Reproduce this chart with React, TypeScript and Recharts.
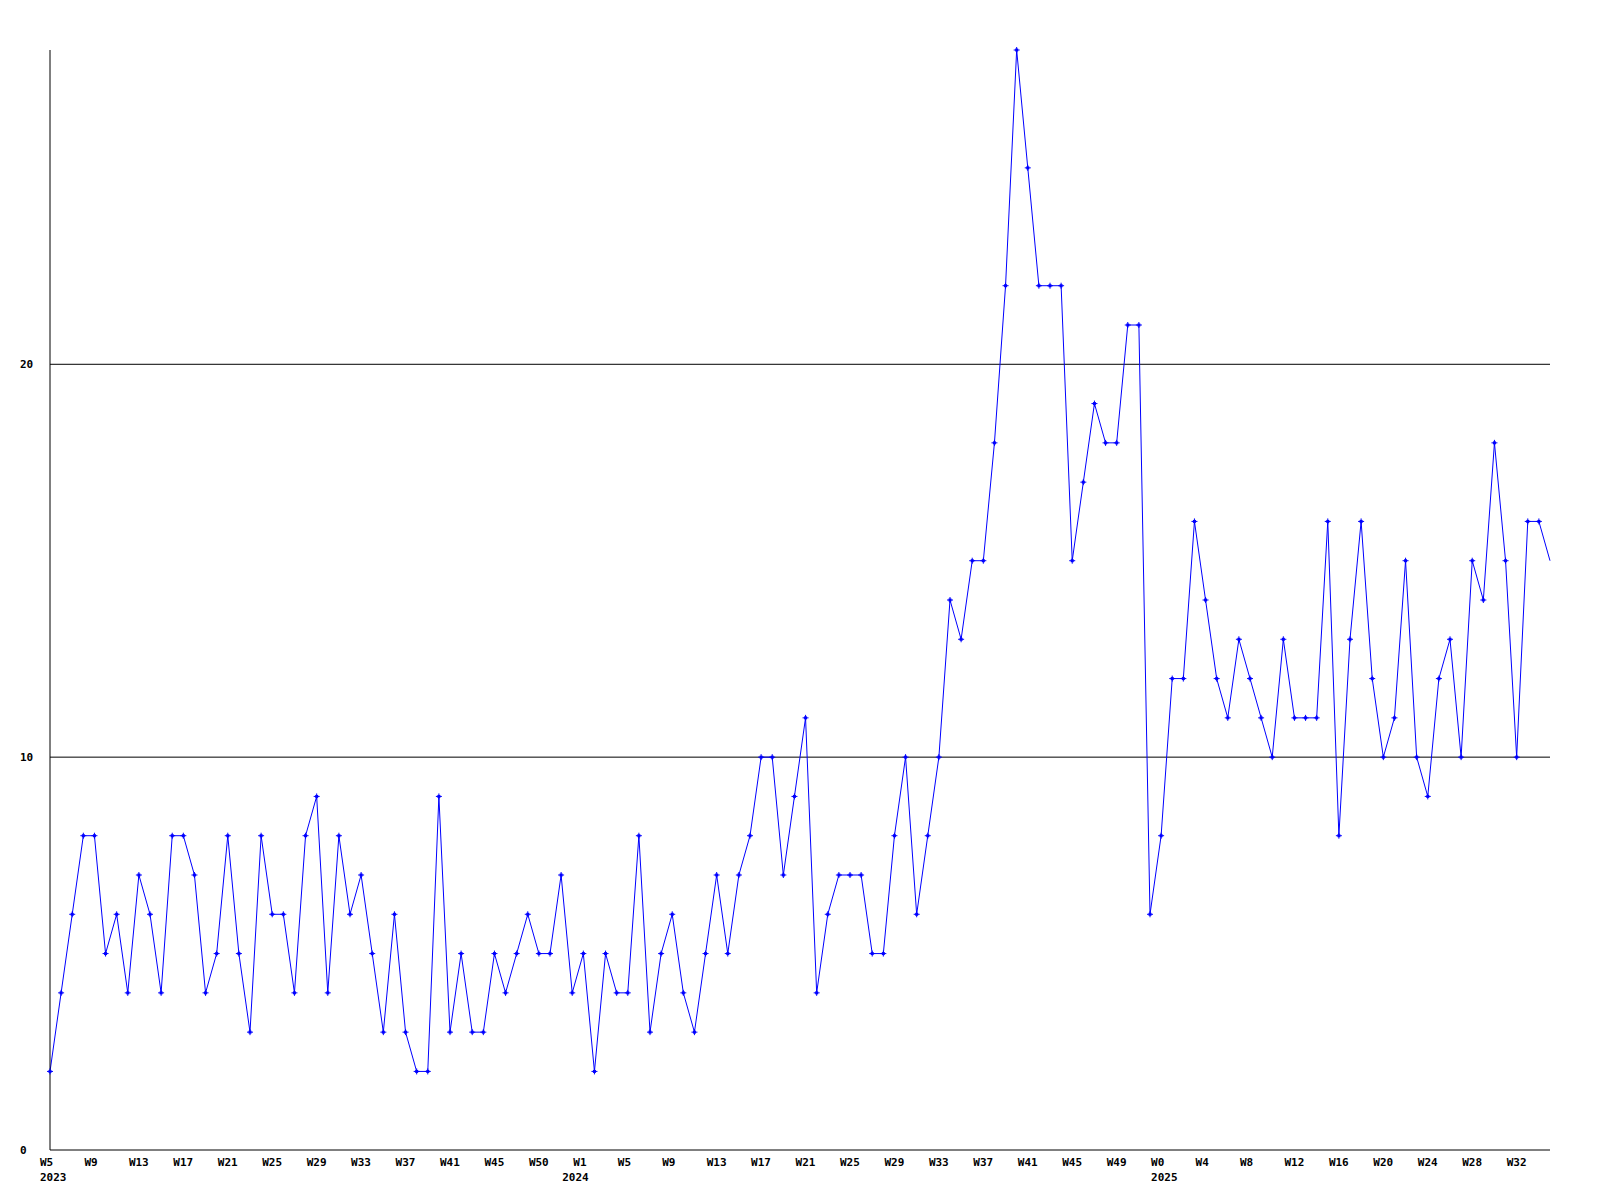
import React from 'react';
import { LineChart, Line, XAxis, YAxis, ReferenceLine, ReferenceDot } from 'recharts';

// weekly counts, one point per week, 2023 W5 onwards
const weeklyCounts = [
  2, 4, 6, 8, 8, 5, 6, 4, 7, 6,
  4, 8, 8, 7, 4, 5, 8, 5, 3, 8,
  6, 6, 4, 8, 9, 4, 8, 6, 7, 5,
  3, 6, 3, 2, 2, 9, 3, 5, 3, 3,
  5, 4, 5, 6, 5, 5, 7, 4, 5, 2,
  5, 4, 4, 8, 3, 5, 6, 4, 3, 5,
  7, 5, 7, 8, 10, 10, 7, 9, 11, 4,
  6, 7, 7, 7, 5, 5, 8, 10, 6, 8,
  10, 14, 13, 15, 15, 18, 22, 28, 25, 22,
  22, 22, 15, 17, 19, 18, 18, 21, 21, 6,
  8, 12, 12, 16, 14, 12, 11, 13, 12, 11,
  10, 13, 11, 11, 11, 16, 8, 13, 16, 12,
  10, 11, 15, 10, 9, 12, 13, 10, 15, 14,
  18, 15, 10, 16, 16, 15,
];

// one label every 4 weeks
const weekTickLabels = [
  'W5', 'W9', 'W13', 'W17', 'W21', 'W25', 'W29', 'W33', 'W37', 'W41', 'W45', 'W50',
  'W1', 'W5', 'W9', 'W13', 'W17', 'W21', 'W25', 'W29', 'W33', 'W37', 'W41', 'W45', 'W49',
  'W0', 'W4', 'W8', 'W12', 'W16', 'W20', 'W24', 'W28', 'W32',
];
// year label sits at the week holding Jan 1
const yearLabels = ['2023', '2024', '2025'];
const yearStartWeek = [0, 47, 100];

const yTicks = [0, 10, 20];
const gridValues = [10, 20];

const FONT = '"DejaVu Sans Mono", "Liberation Mono", monospace';
const BLUE = '#0000ff';

const data = weeklyCounts.map((v, i) => ({ idx: i, value: v }));
const xTicks = weekTickLabels.map((_, i) => i * 4);
const lastIdx = weeklyCounts.length - 1;

const XTick = (props: any) => {
  const { x, y, payload } = props;
  const slot = Math.round(payload.value / 4);
  return (
    <text x={x - 10} y={y + 8} textAnchor="start" fontFamily={FONT} fontWeight="bold" fontSize={11} fill="#000">
      {weekTickLabels[slot]}
    </text>
  );
};

const YTick = (props: any) => {
  const { y, payload } = props;
  return (
    <text x={20} y={y + 4} textAnchor="start" fontFamily={FONT} fontWeight="bold" fontSize={11} fill="#000">
      {payload.value}
    </text>
  );
};

const yearShape = (label: string) => (p: any) => (
  <text x={p.cx - 10} y={p.cy + 31} textAnchor="start" fontFamily={FONT} fontWeight="bold" fontSize={11} fill="#000">
    {label}
  </text>
);

// small plus marker with a solid centre, last point is clipped at the edge
const renderDot = (props: any) => {
  const { cx, cy, index } = props;
  if (index === lastIdx || cx == null) return <g key={`d-${index}`} />;
  return (
    <g key={`d-${index}`}>
      <path d={`M${cx - 3},${cy}L${cx + 3},${cy}M${cx},${cy - 3}L${cx},${cy + 3}`} stroke={BLUE} strokeWidth={1} />
      <rect x={cx - 1.5} y={cy - 1.5} width={3} height={3} fill={BLUE} />
    </g>
  );
};

export default function App() {
  return (
    <div style={{ position: 'absolute', left: 0, top: 0, background: '#fff' }}>
      <LineChart width={1600} height={1200} data={data} margin={{ top: 50, right: 50, bottom: 0, left: 0 }}>
        <XAxis
          dataKey="idx"
          type="number"
          domain={[0, lastIdx]}
          ticks={xTicks}
          interval={0}
          tickLine={false}
          axisLine={{ stroke: '#000' }}
          height={50}
          tick={<XTick />}
        />
        <YAxis
          type="number"
          domain={[0, 28]}
          ticks={yTicks}
          interval={0}
          width={50}
          tickLine={false}
          axisLine={{ stroke: '#000' }}
          tick={<YTick />}
        />
        {gridValues.map((g) => (
          <ReferenceLine key={g} y={g} stroke="#000" strokeWidth={1} />
        ))}
        {yearLabels.map((label, i) => (
          <ReferenceDot key={label} x={yearStartWeek[i]} y={0} r={0} ifOverflow="visible" shape={yearShape(label)} />
        ))}
        <Line
          type="linear"
          dataKey="value"
          stroke={BLUE}
          strokeWidth={1}
          dot={renderDot}
          activeDot={false}
          isAnimationActive={false}
        />
      </LineChart>
    </div>
  );
}
